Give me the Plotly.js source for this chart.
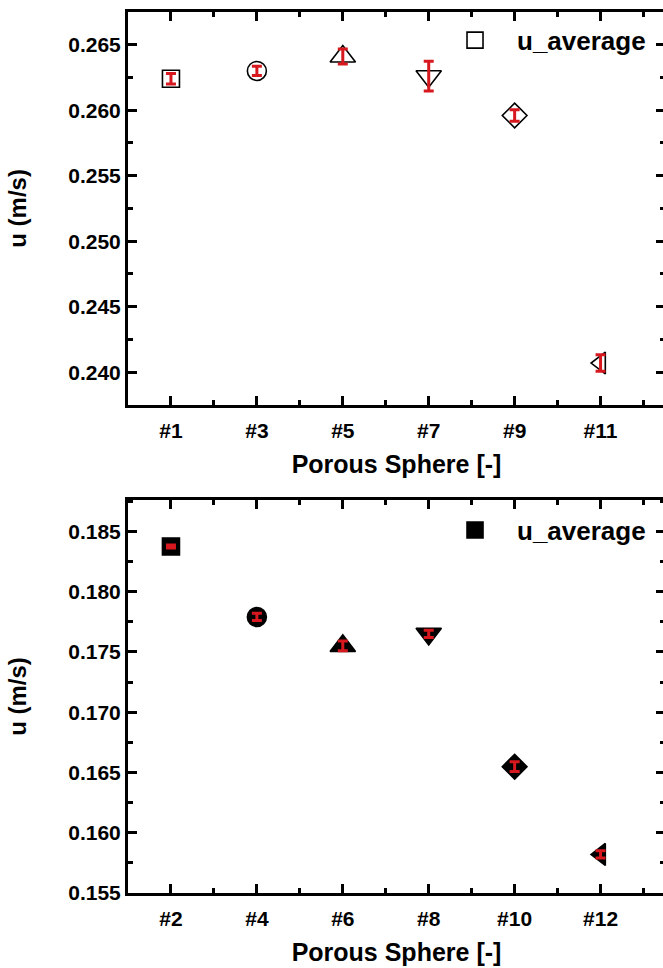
<!DOCTYPE html>
<html><head><meta charset="utf-8">
<script src="https://cdn.plot.ly/plotly-3.0.1.min.js"></script>
<style>html,body{margin:0;padding:0;overflow:hidden;background:#fff;width:663px;height:968px}#chart{width:668px;height:990px}</style>
</head><body><div id="chart"></div>
<script>
// ---- data ----
const topLabels = ['#1', '#3', '#5', '#7', '#9', '#11'];
const topSphere = [1, 3, 5, 7, 9, 11];
const topU = [0.2624, 0.2630, 0.2641, 0.2626, 0.2596, 0.2407];
const topErr = [0.0004, 0.00035, 0.00057, 0.00114, 0.00044, 0.00063];

const botLabels = ['#2', '#4', '#6', '#8', '#10', '#12'];
const botSphere = [2, 4, 6, 8, 10, 12];
const botU = [0.18375, 0.1779, 0.1755, 0.1765, 0.16548, 0.1582];
const botErr = [0.00012, 0.0003, 0.0004, 0.0003, 0.0004, 0.0003];

const seriesName = 'u_average';
const xTitle = 'Porous Sphere [-]';
const yTitle = 'u (m/s)';

// ---- styles ----
const RED = '#d7191f';
const symOpen = ['square-open', 'circle-open', 'triangle-up-open', 'triangle-down-open', 'diamond-open', 'triangle-left-open'];
const symFill = ['square', 'circle', 'triangle-up', 'triangle-down', 'diamond', 'triangle-left'];
const symSize = [17, 19, 22, 22, 19, 19];
const F = {family: 'Liberation Sans, Arial, sans-serif', color: '#000', weight: 'bold'};

function markerTrace(x, y, sym, xa, ya, leg) {
  return {x: x, y: y, xaxis: xa, yaxis: ya, type: 'scatter', mode: 'markers', name: seriesName,
    legend: leg, showlegend: true,
    marker: {symbol: sym, size: symSize, color: '#000', opacity: 1, line: {color: '#000', width: 1.6}}};
}
function errTrace(x, y, e, xa, ya) {
  return {x: x, y: y, xaxis: xa, yaxis: ya, type: 'scatter', mode: 'markers', showlegend: false,
    marker: {size: 1, opacity: 0},
    error_y: {type: 'data', array: e, visible: true, color: RED, thickness: 3, width: 5}};
}

const data = [
  markerTrace(topSphere, topU, symOpen, 'x', 'y', 'legend'),
  errTrace(topSphere, topU, topErr, 'x', 'y'),
  markerTrace(botSphere, botU, symFill, 'x2', 'y2', 'legend2'),
  errTrace(botSphere, botU, botErr, 'x2', 'y2')
];

function xAxis(range, vals, text, anchor, tick0) {
  return {range: range, anchor: anchor, tickmode: 'array', tickvals: vals, ticktext: text,
    ticks: 'inside', ticklen: 9, tickwidth: 3, tickcolor: '#000', ticklabelstandoff: 5,
    showline: true, linewidth: 3, linecolor: '#000', mirror: 'ticks',
    showgrid: false, zeroline: false, automargin: false, fixedrange: true,
    tickfont: Object.assign({}, F, {size: 21}),
    title: {text: xTitle, font: Object.assign({}, F, {size: 25}), standoff: 15},
    minor: {tickmode: 'linear', tick0: tick0, dtick: 1, ticks: 'inside', ticklen: 5, tickwidth: 3, tickcolor: '#000', showgrid: false}};
}
function yAxis(range, tick0, domain, anchor) {
  return {range: range, domain: domain, anchor: anchor, tickmode: 'linear', tick0: tick0, dtick: 0.005, tickformat: '.3f',
    ticks: 'inside', ticklen: 9, tickwidth: 3, tickcolor: '#000',
    showline: true, linewidth: 3, linecolor: '#000', mirror: 'ticks',
    showgrid: false, zeroline: false, automargin: false, fixedrange: true,
    tickfont: Object.assign({}, F, {size: 21}),
    title: {text: yTitle, font: Object.assign({}, F, {size: 24}), standoff: 35},
    minor: {tickmode: 'linear', tick0: tick0, dtick: 0.0025, ticks: 'inside', ticklen: 5, tickwidth: 3, tickcolor: '#000', showgrid: false}};
}

const legendBase = {xref: 'paper', yref: 'paper', xanchor: 'left', yanchor: 'middle', itemwidth: 74,
  bgcolor: 'rgba(0,0,0,0)', borderwidth: 0, font: Object.assign({}, F, {size: 26})};

const layout = {
  width: 668, height: 990,
  margin: {l: 128, r: 3, t: 12, b: 97},
  paper_bgcolor: '#fff', plot_bgcolor: '#fff',
  xaxis: xAxis([0, 12.5], topSphere, topLabels, 'y', 0),
  yaxis: yAxis([0.2375, 0.2675], 0.240, [0.554, 1], 'x'),
  xaxis2: xAxis([1, 13.5], botSphere, botLabels, 'y2', 1),
  yaxis2: yAxis([0.155, 0.1876], 0.155, [0, 0.446], 'x2'),
  legend: Object.assign({}, legendBase, {x: 0.568, y: 0.968}),
  legend2: Object.assign({}, legendBase, {x: 0.568, y: 0.412})
};

Plotly.newPlot('chart', data, layout, {displayModeBar: false, staticPlot: true});
</script></body></html>
